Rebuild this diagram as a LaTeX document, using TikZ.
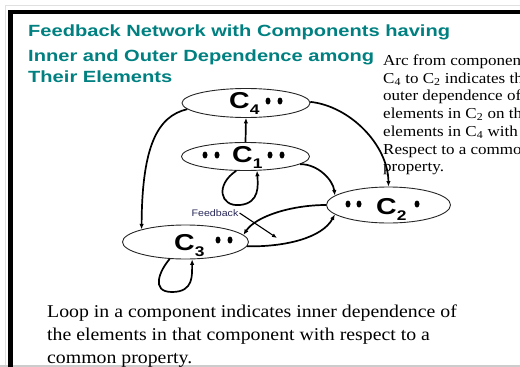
\documentclass[tikz,border=0pt]{standalone}
\usepackage{fontspec}
\setmainfont{Liberation Serif}
\newfontfamily\headfont[FakeStretch=1.24]{Liberation Sans}
\newfontfamily\notefont[FakeStretch=1.12]{Liberation Serif}
\newfontfamily\loopfont[FakeStretch=1.1]{Liberation Serif}
\newfontfamily\tagfont[FakeStretch=1.12]{Liberation Sans}
\usetikzlibrary{shapes.geometric,arrows.meta}
\definecolor{headteal}{RGB}{0,128,128}
\definecolor{tagnavy}{RGB}{40,40,90}
\newcommand\compsub[1]{\raisebox{-6.5pt}{\fontsize{14}{14}\selectfont #1}}

\begin{document}
\begin{tikzpicture}[x=1pt,y=-1pt,
  comp/.style={ellipse, draw=black!85, line width=0.9pt, inner sep=0pt},
  clabel/.style={anchor=base west, inner sep=0pt,
    font=\headfont\bfseries\fontsize{23}{23}\selectfont},
  link/.style={line width=1.7pt, -{Latex[length=5.5pt,width=4.5pt]}},
  fblink/.style={line width=1.1pt, -{Latex[length=5pt,width=4pt]}},
  headline/.style={anchor=base west, inner sep=0pt, text=headteal,
    font=\headfont\bfseries\fontsize{16.2}{19}\selectfont},
  noteline/.style={anchor=base west, inner sep=0pt,
    font=\notefont\fontsize{15.2}{18}\selectfont},
  loopline/.style={anchor=base west, inner sep=0pt,
    font=\loopfont\fontsize{18}{22}\selectfont},
  tag/.style={inner sep=1pt, text=tagnavy, font=\tagfont\fontsize{9.5}{11}\selectfont},
  dot/.style={fill=black}
]
\useasboundingbox (0,0) rectangle (520,367);
\clip (0,0) rectangle (520,367);

% slide edges and frame
\draw[black!12, line width=1pt] (5.5,367) -- (5.5,5.5) -- (520,5.5);
\draw[black!20, line width=1.5pt] (0,366) -- (520,366);
\draw[line width=4.5pt] (10.5,372) -- (10.5,12) -- (530,12);

% heading
\node[headline] (h1) at (28,36.5) {Feedback Network with Components having};
\node[headline] (h2) at (28,61) {Inner and Outer Dependence among};
\node[headline] (h3) at (28,82) {Their Elements};

% note on the right
\node[noteline] (n1) at (383,65.5) {Arc from component};
\node[noteline] (n2) at (383,83.2) {C\textsubscript{4} to C\textsubscript{2} indicates the};
\node[noteline] (n3) at (383,100.9) {outer dependence of};
\node[noteline] (n4) at (383,118.6) {elements in C\textsubscript{2} on the};
\node[noteline] (n5) at (383,136.3) {elements in C\textsubscript{4} with};
\node[noteline] (n6) at (383,154) {Respect to a common};
\node[noteline] (n7) at (383,171.7) {property.};

% note at the bottom
\node[loopline] (b1) at (47,317) {Loop in a component indicates inner dependence of};
\node[loopline] (b2) at (47,340) {the elements in that component with respect to a};
\node[loopline] (b3) at (47,363) {common property.};

% components
\node[comp, minimum width=128pt, minimum height=29pt] (c4) at (246,103) {};
\node[comp, minimum width=128pt, minimum height=28pt] (c1) at (245.5,156.5) {};
\node[comp, minimum width=124pt, minimum height=36pt] (c2) at (388.5,205) {};
\node[comp, minimum width=126pt, minimum height=34pt] (c3) at (185.5,242) {};

% component labels and element dots
\node[clabel] (c4t) at (229,108) {C\compsub{4}};
\node[clabel] (c1t) at (232,162) {C\compsub{1}};
\node[clabel] (c2t) at (376,214) {C\compsub{2}};
\node[clabel] (c3t) at (174,250) {C\compsub{3}};
\foreach \px/\py in {268/101,280/101, 205/155,217/155,270/155,282/155,
                     348/204,359/204,417/204, 218/240,230/240}
  \fill[dot] (\px,\py) ellipse [x radius=2.5pt, y radius=3.5pt];

% outer dependence arcs
\draw[link] (c1.north) -- (c4.south);
\draw[link] (c4.186) .. controls (158,116) and (142,145) .. (c3.164);
\draw[link] (c4.1) .. controls (350,106) and (388,145) .. (c2.north);
\draw[link] (c1.352) .. controls (318,164) and (333,180) .. (c2.170);
\draw[link] (c2.west) .. controls (292,205) and (256,216) .. (c3.7);
\draw[link] (c3.-4) .. controls (285,247) and (322,238) .. (c2.190);

% inner dependence loops
\draw[link] (c1.237) .. controls (215,185) and (220,207) .. (240,205)
  .. controls (260,203) and (258,185) .. (c1.309);
\draw[link] (c3.227) .. controls (160,270) and (150,292) .. (172,292)
  .. controls (194,292) and (192,275) .. (c3.291);

% feedback marker
\node[tag] (fb) at (215,213) {Feedback};
\coordinate (fbend) at (277,238);
\draw[fblink] (fb.east) -- (fbend);
\end{tikzpicture}
\end{document}
